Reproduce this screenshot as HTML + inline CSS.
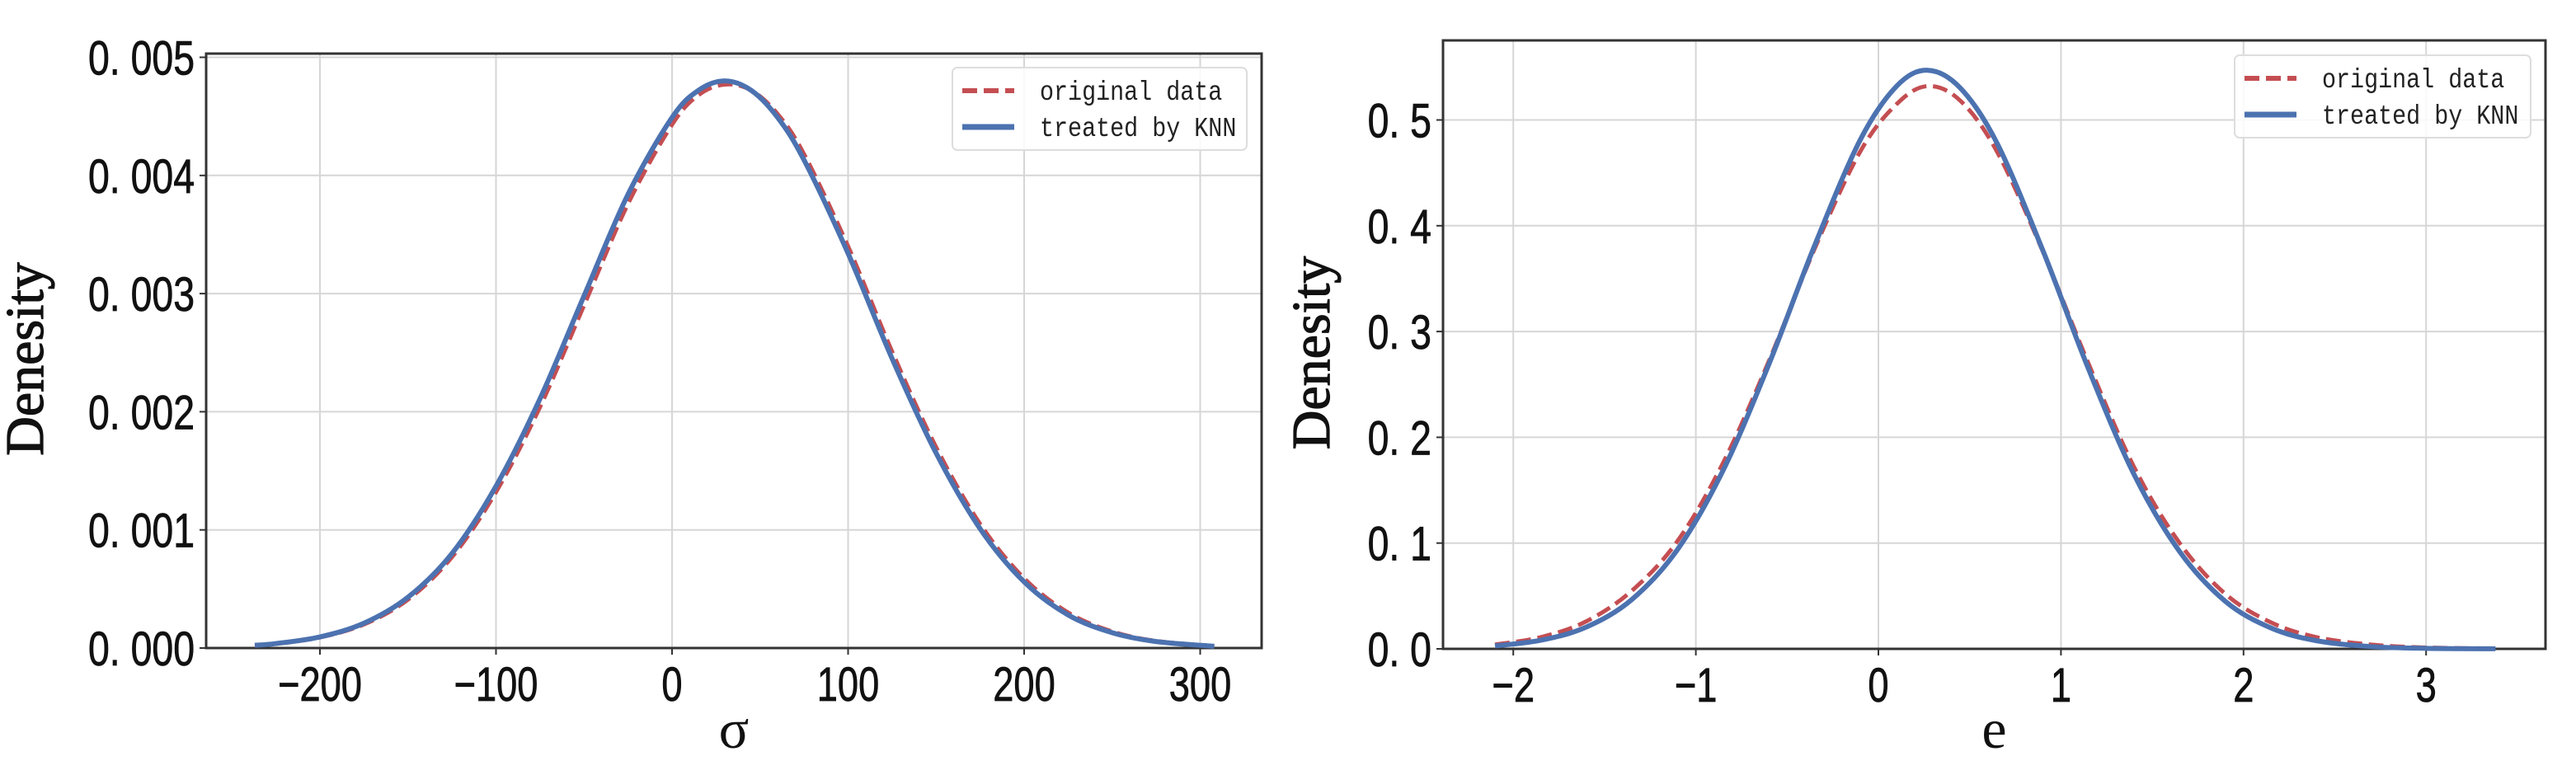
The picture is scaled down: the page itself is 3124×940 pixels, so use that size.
<!DOCTYPE html>
<html><head><meta charset="utf-8"><style>
html,body{margin:0;padding:0;background:#fff;}
svg text{font-family:"Liberation Sans","Noto Sans CJK SC",sans-serif;}
</style></head><body>
<svg id="chart" width="3124" height="935" viewBox="0 0 3124 935" xmlns="http://www.w3.org/2000/svg"></svg>
<script>
const sigmaX=[-237,-225,-200,-175,-150,-125,-100,-75,-50,-25,0,15,30,45,60,75,100,125,150,175,200,225,250,275,308];
const sigmaKNN=[0.000024,0.000038,0.000094,0.00021,0.00043,0.0008,0.00137,0.00211,0.00298,0.00384,0.00449,0.00472,0.0048,0.00472,0.00449,0.00413,0.00334,0.00245,0.00165,0.00101,0.00056,0.00028,0.00013,0.000055,0.000015];
const sigmaOrig=[0.000022,0.000035,0.00009,0.0002,0.00041,0.00077,0.00132,0.00204,0.0029,0.00376,0.00443,0.00468,0.00477,0.00472,0.00452,0.00418,0.0034,0.00251,0.0017,0.00105,0.00059,0.0003,0.00014,0.00006,0.000016];
const sigmaXTicks=[-200,-100,0,100,200,300];
const sigmaYTicks=[0,0.001,0.002,0.003,0.004,0.005];
const sigmaYLabels=["0. 000","0. 001","0. 002","0. 003","0. 004","0. 005"];
const eX=[-2.1,-1.85,-1.6,-1.35,-1.1,-0.85,-0.6,-0.35,-0.1,0.1,0.27,0.45,0.65,0.9,1.15,1.4,1.65,1.9,2.15,2.4,2.7,3.0,3.38];
const eKNN=[0.0028,0.0081,0.0206,0.0467,0.094,0.169,0.269,0.381,0.481,0.532,0.547,0.53,0.478,0.377,0.265,0.165,0.092,0.045,0.0198,0.0077,0.0021,0.0005,0.0001];
const eOrig=[0.004,0.011,0.026,0.055,0.102,0.176,0.272,0.378,0.47,0.515,0.532,0.518,0.47,0.376,0.27,0.172,0.1,0.052,0.025,0.011,0.004,0.0012,0.0003];
const eXTicks=[-2,-1,0,1,2,3];
const eYTicks=[0,0.1,0.2,0.3,0.4,0.5];
const eYLabels=["0. 0","0. 1","0. 2","0. 3","0. 4","0. 5"];

const NS="http://www.w3.org/2000/svg";
const svg=document.getElementById('chart');
function mk(tag,attrs,parent){const e=document.createElementNS(NS,tag);for(const k in attrs)e.setAttribute(k,attrs[k]);(parent||svg).appendChild(e);return e;}
function smooth(pts){let d="M"+pts[0][0]+","+pts[0][1];for(let i=0;i<pts.length-1;i++){const p0=pts[Math.max(0,i-1)],p1=pts[i],p2=pts[i+1],p3=pts[Math.min(pts.length-1,i+2)];const c1x=p1[0]+(p2[0]-p0[0])/6,c1y=p1[1]+(p2[1]-p0[1])/6,c2x=p2[0]-(p3[0]-p1[0])/6,c2y=p2[1]-(p3[1]-p1[1])/6;d+=" C"+c1x+","+c1y+" "+c2x+","+c2y+" "+p2[0]+","+p2[1];}return d;}

function panel(o){
  const g=mk('g',{});
  
  
  const sx=v=>o.x0px+(v-o.x0v)*o.kx, sy=v=>o.y0px-(v)*o.ky;
  const L=o.L,R=o.R,T=o.T,B=o.B;
  o.xTicks.forEach(t=>{const l=mk('line',{x1:sx(t),x2:sx(t),y1:T,y2:B,stroke:'#d6d6d6','stroke-width':2},g);});
  o.yTicks.forEach(t=>{const l=mk('line',{x1:L,x2:R,y1:sy(t),y2:sy(t),stroke:'#d6d6d6','stroke-width':2},g);});
  const fr=mk('rect',{x:L,y:T,width:R-L,height:B-T,fill:'none',stroke:'#333','stroke-width':3},g);
  
  o.xTicks.forEach(t=>{mk('line',{x1:sx(t),x2:sx(t),y1:B,y2:B+8,stroke:'#333','stroke-width':2},g);
    const tx=mk('text',{x:0,y:0,'font-size':58,'text-anchor':'middle',fill:'#111',stroke:'#111','stroke-width':0.8,transform:`translate(${sx(t)},${B+64}) scale(0.78,1)`},g);
    tx.textContent=(t<0?'\u2212'+(-t):String(t));});
  o.yTicks.forEach((t,i)=>{mk('line',{x1:L-8,x2:L,y1:sy(t),y2:sy(t),stroke:'#333','stroke-width':2},g);
    const tx=mk('text',{x:0,y:0,'font-size':58,'text-anchor':'end',fill:'#111',stroke:'#111','stroke-width':0.8,transform:`translate(${L-14},${sy(t)+21}) scale(0.8,1)`},g);
    tx.textContent=o.yLabels[i];});
  const po=o.xs.map((x,i)=>[sx(x),sy(o.orig[i])]);
  const pk=o.xs.map((x,i)=>[sx(x),sy(o.knn[i])]);
  const c1=mk('path',{d:smooth(po),fill:'none',stroke:'#c44e52','stroke-width':5,'stroke-dasharray':'18,8'},g);
  
  const c2=mk('path',{d:smooth(pk),fill:'none',stroke:'#4c72b0','stroke-width':6},g);
  
  const yl=mk('text',{x:0,y:0,'font-size':66,'text-anchor':'middle',fill:'#111',stroke:'#111','stroke-width':1.2,transform:`translate(${o.ylx},${(T+B)/2+10}) rotate(-90)`,style:'font-family:"Liberation Serif",serif'},g);
  yl.textContent='Denesity';
  const xl=mk('text',{x:(L+R)/2+o.xlOff,y:907,'font-size':68,'text-anchor':'middle',fill:'#111',style:'font-family:"Liberation Serif",serif'},g);
  xl.textContent=o.xlabel;
  const lg=mk('g',{},g);
  const [lx,ly,lw,lh]=o.leg;
  mk('rect',{x:lx,y:ly,width:lw,height:lh,rx:6,fill:'#fff','fill-opacity':0.85,stroke:'#ddd','stroke-width':2},lg);
  mk('line',{x1:lx+12,x2:lx+75,y1:ly+28,y2:ly+28,stroke:'#c44e52','stroke-width':6,'stroke-dasharray':'18,8'},lg);
  mk('line',{x1:lx+12,x2:lx+75,y1:ly+72,y2:ly+72,stroke:'#4c72b0','stroke-width':7},lg);
  const t1=mk('text',{x:0,y:0,'font-size':33,fill:'#222',transform:`translate(${lx+106},${ly+39}) scale(0.86,1)`,style:'font-family:"Liberation Mono",monospace'},lg);
  t1.textContent='original data';
  const t2=mk('text',{x:0,y:0,'font-size':33,fill:'#222',transform:`translate(${lx+106},${ly+83}) scale(0.86,1)`,style:'font-family:"Liberation Mono",monospace'},lg);
  t2.textContent='treated by KNN';
}
panel({name:'sigma-panel',L:250,R:1530,T:65,B:786,x0px:815,x0v:0,kx:2.135,y0px:786,ky:143300,
  xTicks:sigmaXTicks,yTicks:sigmaYTicks,yLabels:sigmaYLabels,xs:sigmaX,orig:sigmaOrig,knn:sigmaKNN,
  ylx:52,xlabel:'σ',xlOff:0,leg:[1155,82,357,100]});
panel({name:'e-panel',L:1750,R:3087,T:49,B:787,x0px:2278,x0v:0,kx:221.4,y0px:787,ky:1283,
  xTicks:eXTicks,yTicks:eYTicks,yLabels:eYLabels,xs:eX,orig:eOrig,knn:eKNN,
  ylx:1612,xlabel:'e',xlOff:0,leg:[2710,67,359,100]});
</script>
</body></html>
